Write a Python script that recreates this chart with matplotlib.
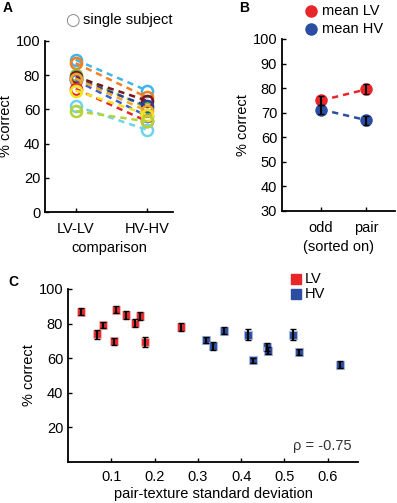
import matplotlib
matplotlib.use("Agg")
import matplotlib.pyplot as plt
import numpy as np

plt.rcParams['font.family'] = ['Liberation Sans', 'DejaVu Sans']

# Panel A data
conditions_a = ["LV-LV", "HV-HV"]
subj_lvlv = [89, 87, 80, 79, 78, 77, 78, 72, 71, 62, 59]
subj_hvhv = [71, 67, 61, 65, 62, 56, 59, 53, 57, 48, 53]
subj_colors = ["#3fb6ea", "#f47f20", "#7cc242", "#7a1420", "#2b3f98", "#3a5fcd",
               "#f5a623", "#e8262a", "#f3e51c", "#6fd3ea", "#b5d334"]

# Panel B data
conditions_b = ["odd", "pair"]
mean_lv = [75, 79.5]
err_lv = [2.0, 2.0]
mean_hv = [71.3, 67]
err_hv = [1.8, 1.8]

# Panel C data
lv_x = [0.031, 0.068, 0.081, 0.106, 0.111, 0.133, 0.155, 0.167, 0.177, 0.262]
lv_y = [86.9, 73.8, 79.2, 69.9, 88.1, 84.8, 80.5, 84.4, 69.2, 78.0]
lv_e = [2.0, 2.5, 2.0, 2.0, 2.2, 2.2, 2.2, 2.5, 3.0, 2.5]
hv_x = [0.318, 0.334, 0.360, 0.416, 0.427, 0.459, 0.463, 0.519, 0.533, 0.629]
hv_y = [70.5, 67.2, 75.9, 73.6, 58.8, 66.5, 64.4, 73.6, 63.6, 56.1]
hv_e = [2.0, 2.2, 2.0, 3.0, 1.5, 2.5, 2.2, 3.0, 2.0, 2.0]
rho_text = "ρ = -0.75"

W, H = 397, 503
fig = plt.figure(figsize=(W / 100, H / 100), dpi=100)

def style(ax, pad=7):
    for s in ["top", "right"]:
        ax.spines[s].set_visible(False)
    for s in ["left", "bottom"]:
        ax.spines[s].set_linewidth(1.3)
    ax.tick_params(direction="in", length=3, width=1, labelsize=10.5, colors="black")
    ax.tick_params(axis="x", pad=pad)

def place_xlabel(ax, ybot_px, hpx, ylab_px):
    ax.xaxis.label.set_va("center")
    ax.xaxis.set_label_coords(0.5, (ybot_px - ylab_px) / hpx)

FS = 10.5

# Panel A
axA = fig.add_axes([45 / W, 1 - 212 / H, 128 / W, 171 / H])
xa = [1, 2]
for lv, hv, c in zip(subj_lvlv, subj_hvhv, subj_colors):
    axA.plot(xa, [lv, hv], ls=(0, (2.5, 2)), color=c, lw=1.8,
             marker="o", mfc="none", mec=c, mew=1.8, ms=8)
axA.set_xlim(0.57, 2.36)
axA.set_ylim(0, 100)
axA.set_yticks([0, 20, 40, 60, 80, 100])
axA.set_xticks(xa)
axA.set_xticklabels(conditions_a)
axA.set_ylabel("% correct", fontsize=FS, labelpad=2)
axA.set_xlabel("comparison", fontsize=FS)
style(axA)
place_xlabel(axA, 212, 171, 248)
fig.text(72 / W, 1 - 20 / H, "○", fontsize=12, color="#888888", ha="center", va="center",
         family=["DejaVu Sans"])
fig.text(83 / W, 1 - 20 / H, "single subject", fontsize=FS, ha="left", va="center")
fig.text(3 / W, 1 - 8 / H, "A", fontsize=10, fontweight="bold", ha="left", va="center")

# Panel B
axB = fig.add_axes([282 / W, 1 - 211 / H, 113 / W, 172 / H])
xb = [1, 2]
axB.plot(xb, mean_lv, ls=(0, (2.5, 2)), color="#e8262a", lw=1.8)
axB.plot(xb, mean_hv, ls=(0, (2.5, 2)), color="#2b4ea3", lw=1.8)
axB.plot(xb, mean_lv, "o", color="#e8262a", ms=8, zorder=3)
axB.plot(xb, mean_hv, "o", color="#2b4ea3", ms=8, zorder=3)
axB.errorbar(xb, mean_lv, yerr=err_lv, fmt="none", ecolor="black", elinewidth=1.5,
             capsize=2.5, zorder=4)
axB.errorbar(xb, mean_hv, yerr=err_hv, fmt="none", ecolor="black", elinewidth=1.5,
             capsize=2.5, zorder=4)
axB.set_xlim(0.13, 2.64)
axB.set_ylim(30, 100)
axB.set_yticks(range(30, 101, 10))
axB.set_xticks(xb)
axB.set_xticklabels(conditions_b)
axB.set_ylabel("% correct", fontsize=FS, labelpad=2)
axB.set_xlabel("(sorted on)", fontsize=FS)
style(axB)
place_xlabel(axB, 211, 172, 247)
fig.text(239 / W, 1 - 8 / H, "B", fontsize=10, fontweight="bold", ha="left", va="center")
fig.lines.append(plt.Line2D([311 / W], [1 - 11 / H], marker="o", color="#e8262a", ms=8,
                            transform=fig.transFigure))
fig.lines.append(plt.Line2D([311 / W], [1 - 29 / H], marker="o", color="#2b4ea3", ms=8,
                            transform=fig.transFigure))
fig.text(322 / W, 1 - 11 / H, "mean LV", fontsize=FS, ha="left", va="center")
fig.text(322 / W, 1 - 29 / H, "mean HV", fontsize=FS, ha="left", va="center")

# Panel C
axC = fig.add_axes([68 / W, 1 - 462 / H, 290 / W, 173 / H])
axC.plot(lv_x, lv_y, "s", color="#e8262a", mec="#f2b8b8", mew=0.8, ms=6, zorder=3)
axC.plot(hv_x, hv_y, "s", color="#2b4ea3", mec="#a8b8d8", mew=0.8, ms=6, zorder=3)
axC.errorbar(lv_x, lv_y, yerr=lv_e, fmt="none", ecolor="black", elinewidth=1.5,
             capsize=2.5, zorder=4)
axC.errorbar(hv_x, hv_y, yerr=hv_e, fmt="none", ecolor="black", elinewidth=1.5,
             capsize=2.5, zorder=4)
axC.set_xlim(0, 0.67)
axC.set_ylim(0, 100)
axC.set_yticks([20, 40, 60, 80, 100])
axC.set_xticks([0.1, 0.2, 0.3, 0.4, 0.5, 0.6])
axC.set_ylabel("% correct", fontsize=FS, labelpad=2)
axC.set_xlabel("pair-texture standard deviation", fontsize=FS)
style(axC, pad=6)
place_xlabel(axC, 462, 173, 494)
axC.text(0.655, 9, rho_text, fontsize=FS, ha="right", va="center", color="#333333")
fig.text(8 / W, 1 - 282 / H, "C", fontsize=10, fontweight="bold", ha="left", va="center")
fig.lines.append(plt.Line2D([296 / W], [1 - 279 / H], marker="s", color="#e8262a", ms=6.5,
                            transform=fig.transFigure))
fig.lines.append(plt.Line2D([296 / W], [1 - 294 / H], marker="s", color="#2b4ea3", ms=6.5,
                            transform=fig.transFigure))
fig.text(305 / W, 1 - 279 / H, "LV", fontsize=FS, ha="left", va="center")
fig.text(305 / W, 1 - 294 / H, "HV", fontsize=FS, ha="left", va="center")

fig.savefig("out.png", dpi=100)
